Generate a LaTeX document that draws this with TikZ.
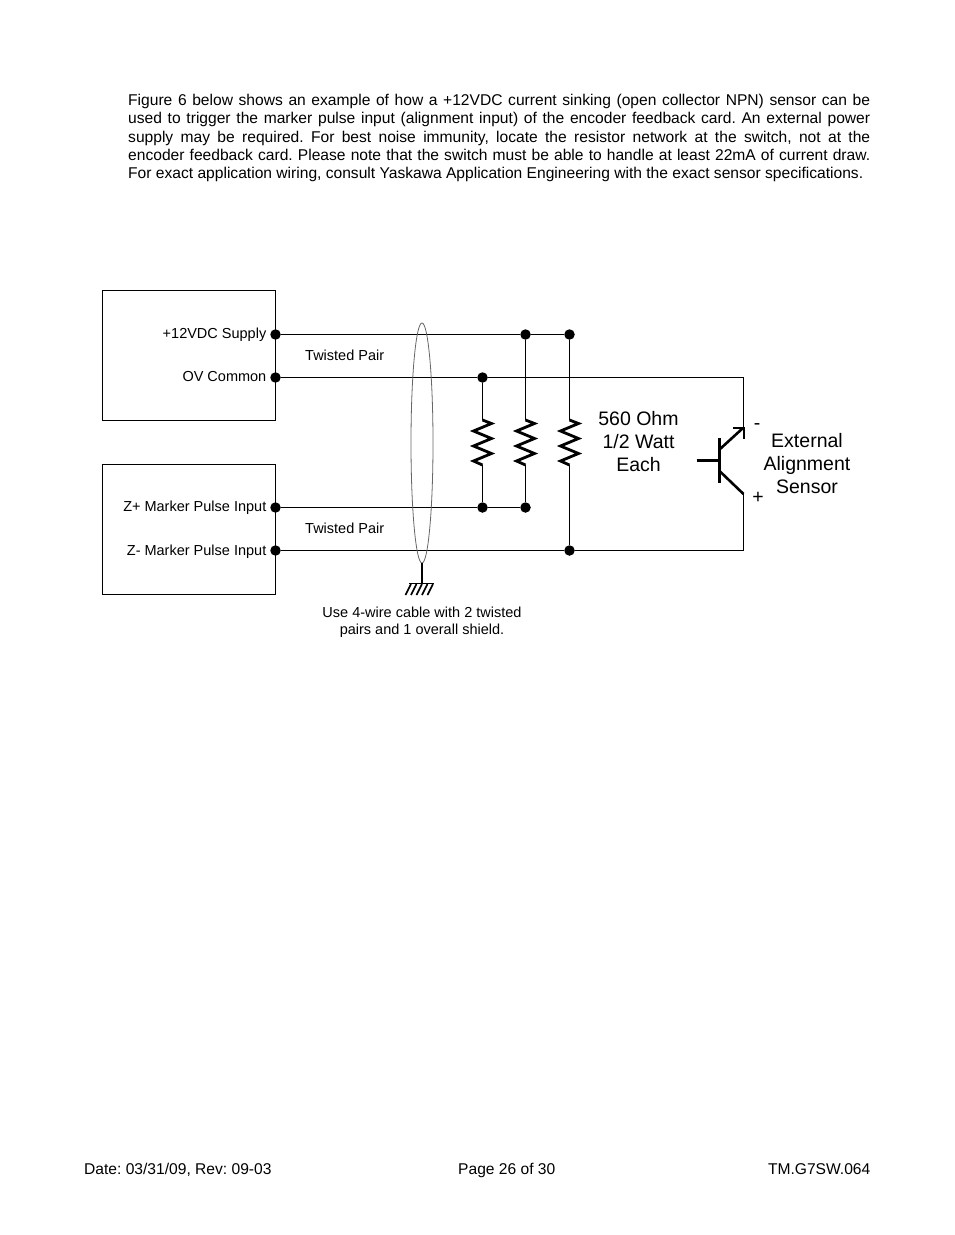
\documentclass[tikz,border=0pt]{standalone}
\usepackage{fontspec}
\setmainfont{Liberation Sans}
\newcommand{\bodyfont}{\frenchspacing\fontsize{15.6}{18.1}\selectfont}
\newcommand{\smallfont}{\fontsize{14.5}{17}\selectfont}
\newcommand{\bigfont}{\fontsize{19.5}{23}\selectfont}
\tikzset{
  x=1pt,y=-1pt,
  wire/.style={draw=black,line width=1.4pt},
  thick wire/.style={draw=black,line width=2.6pt},
  dotn/.style={circle,fill=black,inner sep=0pt,minimum size=10.5pt},
  boxn/.style={draw=black,line width=1pt,rectangle,minimum width=173pt,minimum height=130pt,inner sep=0pt},
  lab/.style={inner sep=0pt,font=\smallfont},
  rlab/.style={lab,anchor=east},
  biglab/.style={inner sep=0pt,font=\bigfont,align=center},
  foot/.style={inner sep=0pt,font=\bodyfont,anchor=base west},
  resistor/.style={draw=black,line width=2.8pt,line join=miter}
}
\begin{document}
\begin{tikzpicture}
\useasboundingbox[fill=white] (0,0) rectangle (954,1235);
\node[inner sep=0pt,anchor=north west,text width=742pt,align=justify,font=\bodyfont] (para) at (128,94.3) {Figure 6 below shows an example of how a +12VDC current sinking (open collector NPN) sensor can be\linebreak used to trigger the marker pulse input (alignment input) of the encoder feedback card. An external power\linebreak supply may be required. For best noise immunity, locate the resistor network at the switch, not at the\linebreak encoder feedback card. Please note that the switch must be able to handle at least 22mA of current draw.\linebreak For exact application wiring, consult Yaskawa Application Engineering with the exact sensor specifications.};
\node[boxn] (topbox) at (188.75,355.5) {};
\node[boxn] (botbox) at (188.75,529.5) {};
\node[dotn] (a1) at (275.5,334.5) {};
\node[dotn] (a2) at (275.5,377.5) {};
\node[dotn] (a3) at (275.5,507.5) {};
\node[dotn] (a4) at (275.5,550.5) {};
\node[dotn] (t1) at (525.5,334.5) {};
\node[dotn] (t2) at (569.5,334.5) {};
\node[dotn] (m1) at (482.5,377.5) {};
\node[dotn] (b1) at (482.5,507.5) {};
\node[dotn] (b2) at (525.5,507.5) {};
\node[dotn] (c1) at (569.5,550.5) {};
\coordinate (corner1) at (743.5,377.5);
\coordinate (corner2) at (743.5,550.5);
\coordinate (emit) at (743.5,428);
\coordinate (coll) at (743.5,494);
\coordinate (bartop) at (719.5,438);
\coordinate (barbot) at (719.5,483);
\coordinate (barmid) at (719.5,460.5);
\coordinate (basein) at (696.5,460.5);
\coordinate (ee) at (719.5,449.5);
\coordinate (ce) at (719.5,471);
\draw[wire] (a1) -- (t1) -- (t2);
\draw[wire] (a2) -- (m1) -- (corner1) -- (emit);
\draw[wire] (a3) -- (b1) -- (b2);
\draw[wire] (a4) -- (c1) -- (corner2) -- (coll);
\foreach \rx/\ta/\tb in {482.5/m1/b1,525.5/t1/b2,569.5/t2/c1}{
  \draw[wire] (\ta) -- (\rx,420);
  \draw[wire] (\rx,465) -- (\tb);
  \draw[resistor] (\rx,420) -- ++(9,3.5) -- ++(-18,7.5) -- ++(18,7.5) -- ++(-18,7.5) -- ++(18,7.5) -- ++(-18,7.5) -- (\rx,465);
}
\draw[thick wire] (bartop) -- (barbot);
\draw[thick wire] (basein) -- (barmid);
\draw[thick wire] (ee) -- (743,428);
\draw[thick wire] (ce) -- (coll);
\draw[thick wire] (733,428) -- (744,428) -- (744,439);
\draw[draw=black!60,line width=.8pt] (422,443) ellipse [x radius=11pt,y radius=120pt];
\coordinate (shieldbot) at (422,563);
\coordinate (gnd) at (422,583.5);
\draw[thick wire,line width=2pt] (shieldbot) -- (gnd);
\draw[wire] (409,583.5) -- (434,583.5);
\foreach \gx in {411,416.5,422,427.5,433}{\draw[wire,line width=1.6pt] (\gx,584) -- (\gx-5.5,595);}
\node[rlab] (l1) at (266.5,335) {+12VDC Supply};
\node[rlab] (l2) at (266.5,377) {OV Common};
\node[rlab] (l3) at (266.5,508) {Z+ Marker Pulse Input};
\node[rlab] (l4) at (266.5,552) {Z- Marker Pulse Input};
\node[lab,anchor=west] (tp1) at (305,355.3) {Twisted Pair};
\node[lab,anchor=west] (tp2) at (305,528.3) {Twisted Pair};
\node[lab,align=center,anchor=north] (cable) at (422,607) {Use 4-wire cable with 2 twisted\\pairs and 1 overall shield.};
\node[biglab] (res) at (638.5,442) {560 Ohm\\1/2 Watt\\Each};
\node[biglab] (sens) at (807,463.4) {External\\Alignment\\Sensor};
\node[biglab] (minus) at (757,427) {-};
\node[biglab] (plus) at (758,498) {+};
\node[foot] (f1) at (84,1174.5) {Date: 03/31/09, Rev: 09-03};
\node[foot] (f2) at (458,1174.5) {Page 26 of 30};
\node[foot,anchor=base east] (f3) at (870.5,1174.5) {TM.G7SW.064};
\end{tikzpicture}
\end{document}
